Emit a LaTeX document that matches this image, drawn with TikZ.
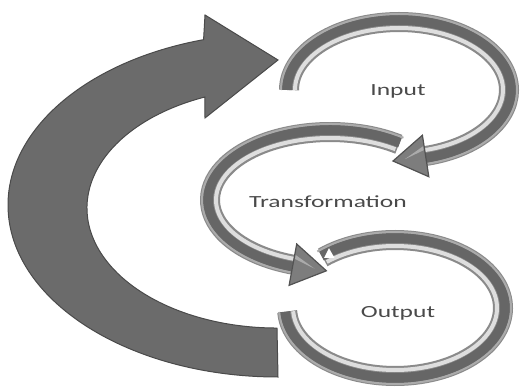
\documentclass[tikz,border=0pt]{standalone}
\usepackage{fontspec}
\setmainfont{Carlito}
\definecolor{bigfill}{HTML}{6B6B6B}
\definecolor{bigedge}{HTML}{4A4A4A}
\definecolor{ringedge}{HTML}{8A8A8A}
\definecolor{ringbody}{HTML}{666666}
\definecolor{ringlight}{HTML}{ABABAB}
\definecolor{ringshine}{HTML}{DEDEDE}
\definecolor{labelgray}{HTML}{4A4A4A}

\tikzset{
  ringhead/.style={fill=ringbody!85!white, draw=ringbody!80!black, line width=1.2pt, line join=miter},
  lbl/.style={text=labelgray, font=\fontsize{17}{20}\selectfont, xscale=1.5, transform shape}
}

\begin{document}
\begin{tikzpicture}[x=1pt,y=1pt]
  \useasboundingbox[fill=white] (0,0) rectangle (527,391);

  % output ring
  \draw[line width=20pt, ringedge] (395,83) ++(132:108pt and 68pt) arc[start angle=132, end angle=-177, x radius=108pt, y radius=68pt];
  \draw[line width=10pt, ringbody] (395,83) ++(132:110pt and 70pt) arc[start angle=132, end angle=-177, x radius=110pt, y radius=70pt];
  \draw[line width=2pt, ringlight] (395,83) ++(132:116pt and 76pt) arc[start angle=132, end angle=-177, x radius=116pt, y radius=76pt];
  \draw[line width=4pt, ringshine] (395,83) ++(132:102pt and 62pt) arc[start angle=132, end angle=-177, x radius=102pt, y radius=62pt];
  \path (395,83) ++(132:108pt and 68pt) coordinate (outStart);
  \fill[white, shift={(outStart)}, rotate=29.5] (1,-1) -- (10,-6) -- (10,5) -- cycle;

  % transformation ring
  \draw[line width=20pt, ringedge] (330,191) ++(55:120pt and 68pt) arc[start angle=55, end angle=252, x radius=120pt, y radius=68pt];
  \draw[line width=10pt, ringbody] (330,191) ++(55:122pt and 70pt) arc[start angle=55, end angle=252, x radius=122pt, y radius=70pt];
  \draw[line width=2pt, ringlight] (330,191) ++(55:128pt and 76pt) arc[start angle=55, end angle=252, x radius=128pt, y radius=76pt];
  \draw[line width=4pt, ringshine] (330,191) ++(55:114pt and 62pt) arc[start angle=55, end angle=252, x radius=114pt, y radius=62pt];
  \path (330,191) ++(252:120pt and 68pt) coordinate (trEnd);
  \draw[ringhead, shift={(trEnd)}, rotate=-10.4] (0,-21) -- (34,0) -- (0,21) -- cycle;
  \fill[ringlight, shift={(trEnd)}, rotate=-10.4] (1,6) -- (22,0) -- (1,10) -- cycle;

  % input ring
  \draw[line width=20pt, ringedge] (399,301) ++(180:110pt and 68pt) arc[start angle=180, end angle=-76, x radius=110pt, y radius=68pt];
  \draw[line width=10pt, ringbody] (399,301) ++(180:112pt and 70pt) arc[start angle=180, end angle=-76, x radius=112pt, y radius=70pt];
  \draw[line width=2pt, ringlight] (399,301) ++(180:118pt and 76pt) arc[start angle=180, end angle=-76, x radius=118pt, y radius=76pt];
  \draw[line width=4pt, ringshine] (399,301) ++(180:104pt and 62pt) arc[start angle=180, end angle=-76, x radius=104pt, y radius=62pt];
  \path (399,301) ++(-76:110pt and 68pt) coordinate (inEnd);
  \draw[ringhead, shift={(inEnd)}, rotate=188.8] (0,-21) -- (33,0) -- (0,21) -- cycle;
  \fill[ringlight, shift={(inEnd)}, rotate=188.8] (1,-10) -- (21,0) -- (1,-6) -- cycle;

  % feedback arrow
  \draw[fill=bigfill, draw=bigedge, line width=1pt]
    (278,14) arc[start angle=270, end angle=106, x radius=270pt, y radius=172pt]
    -- (205,376) -- (278,331) -- (205,273)
    -- (204.9,294) arc[start angle=112.3, end angle=270, x radius=190pt, y radius=120pt]
    -- cycle;

  \node[lbl] (input) at (398,300) {Input};
  \node[lbl] (transf) at (328,189) {Transformation};
  \node[lbl] (output) at (398,78) {Output};
\end{tikzpicture}
\end{document}
